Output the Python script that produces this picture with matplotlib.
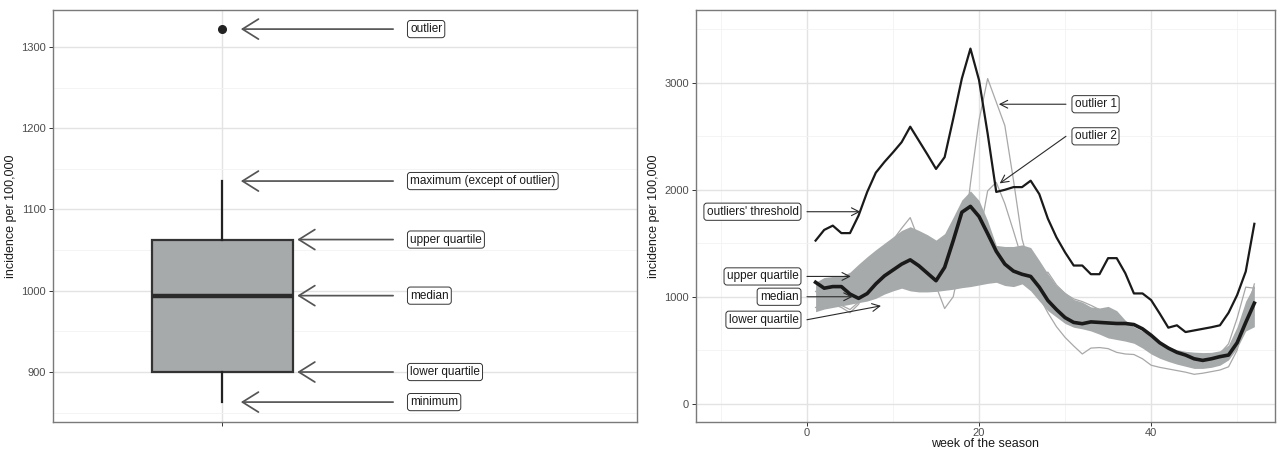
import matplotlib
matplotlib.use("Agg")
import matplotlib.pyplot as plt
import numpy as np
from matplotlib.ticker import MultipleLocator, FixedLocator

plt.rcParams['font.family'] = ['Liberation Sans', 'DejaVu Sans']

# --- season summary (left panel) ---
box_min = 863
box_q1 = 900
box_median = 994
box_q3 = 1063
box_max = 1135
box_outliers = [1322]

# --- weekly incidence (right panel) ---
weeks = list(range(1, 53))
threshold = [1525, 1625, 1665, 1595, 1595, 1760, 1980, 2160, 2260, 2350,
             2445, 2590, 2460, 2330, 2195, 2305, 2665, 3040, 3320, 3025,
             2525, 1980, 2000, 2025, 2025, 2085, 1960, 1730, 1555, 1415,
             1292, 1292, 1211, 1211, 1361, 1361, 1220, 1031, 1031, 969,
             843, 711, 733, 670, 685, 700, 715, 733, 850, 1016,
             1236, 1682]
median = [1135, 1080, 1095, 1095, 1025, 985, 1030, 1120, 1195, 1250,
          1305, 1345, 1290, 1220, 1150, 1275, 1525, 1790, 1845, 1750,
          1590, 1425, 1305, 1240, 1210, 1190, 1090, 965, 880, 805,
          760, 748, 765, 760, 755, 750, 750, 740, 700, 640,
          570, 520, 480, 455, 420, 405, 420, 440, 455, 570,
          760, 940]
upper_q = [1135, 1180, 1190, 1190, 1230, 1305, 1375, 1440, 1500, 1560,
           1620, 1655, 1620, 1580, 1530, 1590, 1745, 1905, 1990, 1900,
           1710, 1480, 1470, 1470, 1485, 1460, 1340, 1215, 1105, 1040,
           975, 950, 905, 895, 910, 870, 780, 720, 680, 630,
           575, 535, 505, 490, 482, 478, 480, 495, 550, 720,
           960, 1110]
lower_q = [860, 885, 900, 915, 930, 945, 960, 985, 1025, 1055,
           1080, 1055, 1045, 1045, 1050, 1060, 1070, 1085, 1095, 1110,
           1125, 1135, 1105, 1095, 1120, 1055, 960, 870, 810, 750,
           715, 700, 680, 650, 615, 600, 585, 565, 520, 465,
           425, 395, 370, 350, 330, 330, 340, 360, 410, 520,
           680, 720]
outlier_1 = [900, 920, 930, 900, 850, 930, 1100, 1250, 1400, 1530,
             1640, 1740, 1530, 1320, 1100, 890, 1000, 1380, 2060, 2650,
             3040, 2820, 2600, 2090, 1540, 1250, 1000, 850, 720, 620,
             540, 465, 520, 525, 515, 480, 465, 460, 420, 360,
             340, 325, 310, 295, 275, 285, 300, 315, 345, 500,
             830, 1120]
outlier_2 = [1050, 1000, 960, 920, 880, 950, 1050, 1100, 1150, 1180,
             1200, 1200, 1190, 1180, 1200, 1250, 1350, 1400, 1450, 1550,
             1990, 2070, 1870, 1615, 1350, 1250, 1200, 1230, 1110, 1030,
             980, 955, 920, 880, 860, 800, 720, 650, 600, 550,
             500, 460, 430, 420, 410, 410, 430, 470, 560, 800,
             1090, 1080]

TICK_COLOR = '#4d4d4d'
GRID_MAJOR = '#e3e3e3'
GRID_MINOR = '#f3f3f3'
FRAME = '#7a7a7a'
FILL = '#a7aaab'

label_box = dict(boxstyle='round,pad=0.22,rounding_size=0.25', fc='white',
                 ec='#333333', lw=0.7)


def style_axes(ax):
    for s in ax.spines.values():
        s.set_color(FRAME)
        s.set_linewidth(1.0)
    ax.tick_params(axis='both', which='major', labelsize=8, colors='#333333',
                   labelcolor=TICK_COLOR, length=3, width=0.7, pad=2)
    ax.tick_params(axis='both', which='minor', length=0)
    ax.grid(True, which='major', color=GRID_MAJOR, lw=1.0)
    ax.grid(True, which='minor', color=GRID_MINOR, lw=0.6)
    ax.set_axisbelow(True)


fig = plt.figure(figsize=(12.8, 4.5), dpi=100)

# ---------------- left: annotated boxplot ----------------
ax1 = fig.add_axes([53 / 1280, 28 / 450, 584 / 1280, 412 / 450])
stats = [dict(med=box_median, q1=box_q1, q3=box_q3,
              whislo=box_min, whishi=box_max, fliers=box_outliers)]
ax1.bxp(stats, positions=[1], widths=0.75, patch_artist=True, showcaps=False,
        boxprops=dict(facecolor=FILL, edgecolor='#333333', lw=1.6),
        medianprops=dict(color='#2b2b2b', lw=3.2),
        whiskerprops=dict(color='#222222', lw=1.6),
        flierprops=dict(marker='o', markerfacecolor='#222222',
                        markeredgecolor='#222222', markersize=5.5))
ax1.set_xlim(0.101, 3.207)
ax1.set_ylim(838.5, 1345.5)
ax1.yaxis.set_major_locator(MultipleLocator(100))
ax1.yaxis.set_minor_locator(MultipleLocator(50))
ax1.xaxis.set_major_locator(FixedLocator([1]))
ax1.set_xticklabels([''])
style_axes(ax1)
ax1.set_ylabel('incidence per 100,000', fontsize=9, color='#1a1a1a', labelpad=3)

left_notes = [
    ('outlier', box_outliers[0], 1.1),
    ('maximum (except of outlier)', box_max, 1.1),
    ('upper quartile', box_q3, 1.4),
    ('median', box_median, 1.4),
    ('lower quartile', box_q1, 1.4),
    ('minimum', box_min, 1.1),
]
for text, yv, head in left_notes:
    ax1.annotate('', xy=(head, yv), xytext=(1.91, yv),
                 arrowprops=dict(arrowstyle='->,head_length=1.15,head_width=0.72',
                                 color='#555555', lw=1.25, shrinkA=0, shrinkB=0,
                                 mutation_scale=10))
    ax1.text(2.0, yv, text, ha='left', va='center', fontsize=8.5,
             color='#1a1a1a', bbox=label_box)

# ---------------- right: weekly curves ----------------
ax2 = fig.add_axes([696 / 1280, 28 / 450, 579 / 1280, 412 / 450])
ax2.plot(weeks, outlier_1, color='#a8a8a8', lw=0.9, zorder=2)
ax2.plot(weeks, outlier_2, color='#a8a8a8', lw=0.9, zorder=2)
ax2.fill_between(weeks, lower_q, upper_q, color=FILL, lw=0, zorder=3)
ax2.plot(weeks, threshold, color='#1a1a1a', lw=1.6, zorder=4)
ax2.plot(weeks, median, color='#1a1a1a', lw=2.6, zorder=5)
ax2.set_xlim(-12.9, 54.4)
ax2.set_ylim(-171, 3681)
ax2.xaxis.set_major_locator(MultipleLocator(20))
ax2.xaxis.set_minor_locator(MultipleLocator(10))
ax2.yaxis.set_major_locator(MultipleLocator(1000))
ax2.yaxis.set_minor_locator(MultipleLocator(500))
style_axes(ax2)
ax2.tick_params(axis='x', which='major', pad=1)
ax2.set_ylabel('incidence per 100,000', fontsize=9, color='#1a1a1a', labelpad=3)
ax2.set_xlabel('week of the season', fontsize=9, color='#1a1a1a', labelpad=0)

small_head = dict(arrowstyle='->,head_length=0.55,head_width=0.28',
                  color='#2a2a2a', lw=0.8, shrinkA=0, shrinkB=0,
                  mutation_scale=10)

# labels on the left side, arrows start at week 0
right_left_notes = [
    ("outliers' threshold", 1795, (6.2, 1795)),
    ('upper quartile', 1190, (5.1, 1190)),
    ('median', 1000, (5.3, 1000)),
    ('lower quartile', 785, (8.6, 915)),
]
for text, yv, head in right_left_notes:
    ax2.annotate('', xy=head, xytext=(0, yv), arrowprops=small_head, zorder=6)
    ax2.text(-1.0, yv, text, ha='right', va='center', fontsize=8.5,
             color='#1a1a1a', bbox=label_box, zorder=7)

# labels on the right side, arrows start at week 30
right_right_notes = [
    ('outlier 1', 2800, (22.3, 2800)),
    ('outlier 2', 2500, (22.4, 2060)),
]
for text, yv, head in right_right_notes:
    ax2.annotate('', xy=head, xytext=(30.1, yv), arrowprops=small_head, zorder=6)
    ax2.text(31.1, yv, text, ha='left', va='center', fontsize=8.5,
             color='#1a1a1a', bbox=label_box, zorder=7)

fig.savefig('out.png', dpi=100)
